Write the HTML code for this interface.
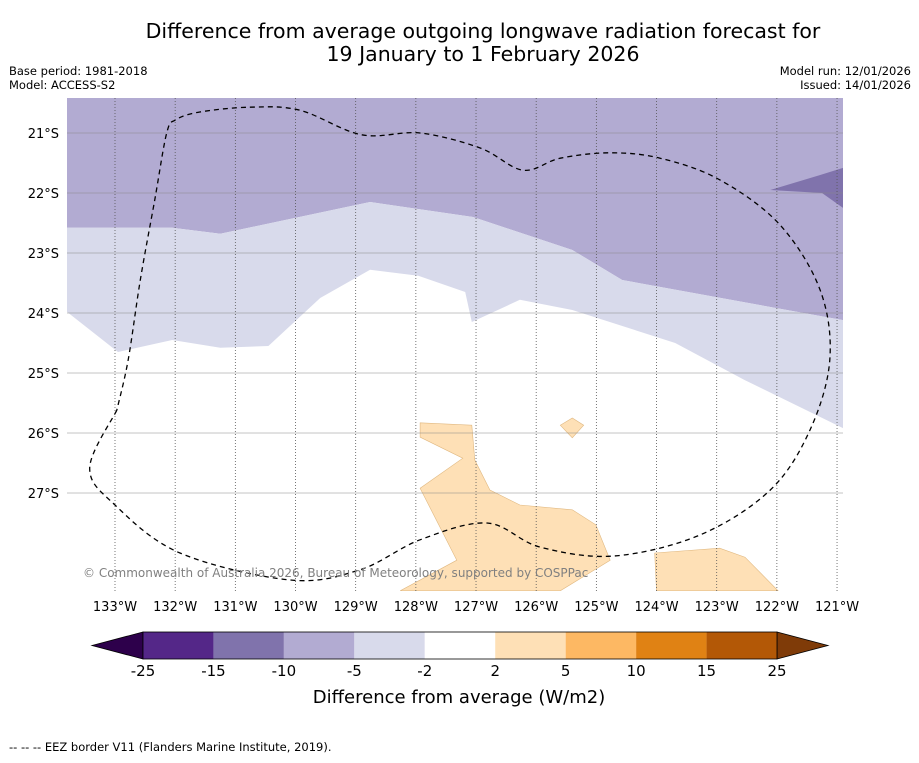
<!DOCTYPE html>
<html><head><meta charset="utf-8">
<style>
body{margin:0;background:#fff;width:919px;height:758px;overflow:hidden;font-family:"Liberation Sans","DejaVu Sans",sans-serif;}
svg text{font-family:"DejaVu Sans","Liberation Sans",sans-serif;}
</style></head>
<body>
<svg id="chart" width="919" height="758" xmlns="http://www.w3.org/2000/svg">
<text x="483" y="38" font-size="20.5" text-anchor="middle">Difference from average outgoing longwave radiation forecast for</text>
<text x="483" y="61" font-size="20.5" text-anchor="middle">19 January to 1 February 2026</text>
<text x="9" y="75" font-size="11.5">Base period: 1981-2018</text>
<text x="9" y="89" font-size="11.5">Model: ACCESS-S2</text>
<text x="911" y="75" font-size="11.5" text-anchor="end">Model run: 12/01/2026</text>
<text x="911" y="89" font-size="11.5" text-anchor="end">Issued: 14/01/2026</text>
<defs><clipPath id="mapclip"><rect x="67" y="98" width="776" height="493"/></clipPath></defs>
<g id="map" clip-path="url(#mapclip)"></g>
<g id="grid"></g>
<g id="cbar"></g>
<text x="83" y="577" font-size="12" fill="#808080">© Commonwealth of Australia 2026, Bureau of Meteorology, supported by COSPPac</text>
<text x="459" y="703" font-size="18" text-anchor="middle">Difference from average (W/m2)</text>
<text x="9" y="751" font-size="11.5">--  --  -- EEZ border V11 (Flanders Marine Institute, 2019).</text>
</svg>
<script>
const lonTicks=[-133,-132,-131,-130,-129,-128,-127,-126,-125,-124,-123,-122,-121];
const latTicks=[-21,-22,-23,-24,-25,-26,-27];
const cbLevels=["-25","-15","-10","-5","-2","2","5","10","15","25"];
const cbColors=["#542788","#8073ac","#b2abd2","#d8daeb","#ffffff","#fee0b6","#fdb863","#e08214","#b35806"];
const boundaryA_lon=[-133.8,-132.05,-131.25,-128.76,-127.05,-125.40,-124.57,-120.9];
const boundaryA_lat=[-22.58,-22.58,-22.68,-22.15,-22.40,-22.95,-23.45,-24.12];
const boundaryB_lon=[-133.8,-132.95,-132.05,-131.25,-130.45,-129.59,-128.76,-127.96,-127.18,-127.07,-126.27,-125.40,-123.69,-122.53,-120.9];
const boundaryB_lat=[-23.98,-24.65,-24.45,-24.58,-24.55,-23.75,-23.28,-23.38,-23.65,-24.15,-23.78,-23.95,-24.5,-25.12,-25.92];
const darkPatch_lon=[-122.11,-121.25,-120.9,-120.9,-121.28];
const darkPatch_lat=[-21.95,-22.0,-22.25,-21.58,-21.70];
const orangeMain_lon=[-127.93,-127.07,-127.02,-126.77,-126.27,-125.40,-125.01,-124.77,-125.60,-128.26,-127.32,-127.93,-127.22,-127.93];
const orangeMain_lat=[-25.83,-25.87,-26.45,-26.95,-27.2,-27.28,-27.53,-28.12,-28.63,-28.63,-28.12,-26.92,-26.42,-26.07];
const orangeBlob_lon=[-125.6,-125.4,-125.21,-125.4];
const orangeBlob_lat=[-25.87,-25.75,-25.87,-26.08];
const orangeBR_lon=[-124.03,-122.95,-122.53,-121.98,-124.0];
const orangeBR_lat=[-28.0,-27.92,-28.07,-28.63,-28.63];
const eez_lon=[-132.97,-133.42,-133.0,-131.92,-130.09,-128.93,-127.93,-126.82,-125.94,-124.71,-123.28,-122.11,-121.45,-121.12,-121.28,-121.95,-122.95,-123.94,-124.77,-125.60,-126.22,-126.93,-127.93,-128.90,-129.93,-130.76,-131.59,-131.99,-132.14,-132.34,-132.58,-132.78,-132.97];
const eez_lat=[-25.62,-26.58,-27.2,-28.0,-28.45,-28.28,-27.78,-27.5,-27.9,-28.05,-27.7,-26.95,-25.95,-24.78,-23.62,-22.53,-21.78,-21.42,-21.33,-21.42,-21.62,-21.25,-21.0,-21.03,-20.62,-20.57,-20.65,-20.78,-21.0,-22.12,-23.45,-24.78,-25.62];

const NS="http://www.w3.org/2000/svg";
const X=lon=>115+(lon+133)*60.17;
const Y=lat=>133+(-lat-21)*60;
function mk(tag,attrs,parent){const e=document.createElementNS(NS,tag);for(const k in attrs)e.setAttribute(k,attrs[k]);parent.appendChild(e);return e;}
function pts(lons,lats){return lons.map((l,i)=>X(l).toFixed(1)+","+Y(lats[i]).toFixed(1));}
function smooth(lons,lats){
 const p=lons.map((l,i)=>[X(l),Y(lats[i])]);
 let d="M"+p[0][0].toFixed(1)+","+p[0][1].toFixed(1);
 for(let i=0;i<p.length-1;i++){
  const p0=p[Math.max(0,i-1)],p1=p[i],p2=p[i+1],p3=p[Math.min(p.length-1,i+2)];
  const c1=[p1[0]+(p2[0]-p0[0])/6,p1[1]+(p2[1]-p0[1])/6];
  const c2=[p2[0]-(p3[0]-p1[0])/6,p2[1]-(p3[1]-p1[1])/6];
  d+=" C"+c1[0].toFixed(1)+","+c1[1].toFixed(1)+" "+c2[0].toFixed(1)+","+c2[1].toFixed(1)+" "+p2[0].toFixed(1)+","+p2[1].toFixed(1);
 }
 return d;
}
const map=document.getElementById('map');
let e;
e=mk('polygon',{points:[X(-133.8)+","+Y(-20.3),X(-120.9)+","+Y(-20.3)].concat(pts(boundaryA_lon,boundaryA_lat).reverse()).join(" "),fill:"#b2abd2"},map);


e=mk('polygon',{points:pts(boundaryA_lon,boundaryA_lat).concat(pts(boundaryB_lon,boundaryB_lat).reverse()).join(" "),fill:"#d8daeb"},map);


e=mk('polygon',{points:pts(darkPatch_lon,darkPatch_lat).join(" "),fill:"#8073ac"},map);


[[orangeMain_lon,orangeMain_lat,'region-plus-2-to-5-main'],[orangeBlob_lon,orangeBlob_lat,'region-plus-2-to-5-small'],[orangeBR_lon,orangeBR_lat,'region-plus-2-to-5-southeast']].forEach(r=>{
 e=mk('polygon',{points:pts(r[0],r[1]).join(" "),fill:"#fee0b6",stroke:"#e0b880","stroke-width":"0.6"},map);
 
 
});
const grid=document.getElementById('grid');
lonTicks.forEach(l=>{
 e=mk('line',{x1:X(l),x2:X(l),y1:98,y2:591,stroke:"#555","stroke-width":"0.8","stroke-dasharray":"1,2"},grid);
 
 
 e=mk('text',{x:X(l),y:611,"font-size":"13","text-anchor":"middle"},grid);
 e.textContent=Math.abs(l)+"°W";
 
 
});
latTicks.forEach(l=>{
 e=mk('line',{x1:67,x2:843,y1:Y(l),y2:Y(l),stroke:"#888","stroke-width":"0.5"},grid);
 
 
 e=mk('text',{x:59,y:Y(l)+5,"font-size":"13","text-anchor":"end"},grid);
 e.textContent=Math.abs(l)+"°S";
 
 
});
e=mk('path',{d:smooth(eez_lon,eez_lat),fill:"none",stroke:"#000","stroke-width":"1.3","stroke-dasharray":"5,4"},grid);


const cb=document.getElementById('cbar');
const cx0=143,cx1=777,cy0=632,cy1=659,w=(cx1-cx0)/cbColors.length;
e=mk('polygon',{points:`92,645.5 ${cx0},${cy0} ${cx0},${cy1}`,fill:"#2d004b",stroke:"#000","stroke-width":"0.8"},cb);


e=mk('polygon',{points:`828,645.5 ${cx1},${cy0} ${cx1},${cy1}`,fill:"#7f3b08",stroke:"#000","stroke-width":"0.8"},cb);


cbColors.forEach((c,i)=>{
 e=mk('rect',{x:cx0+i*w,y:cy0,width:w,height:cy1-cy0,fill:c},cb);
 
 
});
e=mk('rect',{x:cx0,y:cy0,width:cx1-cx0,height:cy1-cy0,fill:"none",stroke:"#000","stroke-width":"0.8"},cb);


cbLevels.forEach((t,i)=>{
 e=mk('text',{x:cx0+i*w,y:676,"font-size":"15","text-anchor":"middle"},cb);
 e.textContent=t;
 
 
});
</script>
</body></html>
